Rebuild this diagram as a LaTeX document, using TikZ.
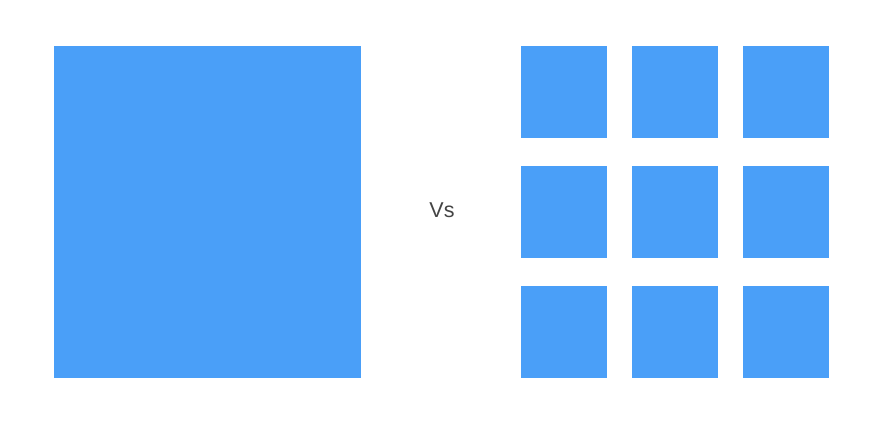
\documentclass[tikz,border=0pt]{standalone}
\usepackage{fontspec}
\setmainfont{Liberation Sans}
\usepackage{tikz}
\definecolor{tileblue}{HTML}{4A9FF8}
\definecolor{vsgray}{HTML}{444444}
\tikzset{
    tile/.style={fill=tileblue},
}

\begin{document}
\begin{tikzpicture}[x=1pt,y=-1pt]
\useasboundingbox (0,0) rectangle (885,423);
\fill[tile] (54,46) rectangle (361,378);

\foreach \x in {521,632,743}{
\foreach \y in {46,166,286}{
\fill[tile] (\x,\y) rectangle ++(85.5,92);
}
}

\node[vsgray, font=\fontsize{21.5}{24}\selectfont, inner sep=0pt] (vs) at (442,210) {Vs};
\end{tikzpicture}
\end{document}
